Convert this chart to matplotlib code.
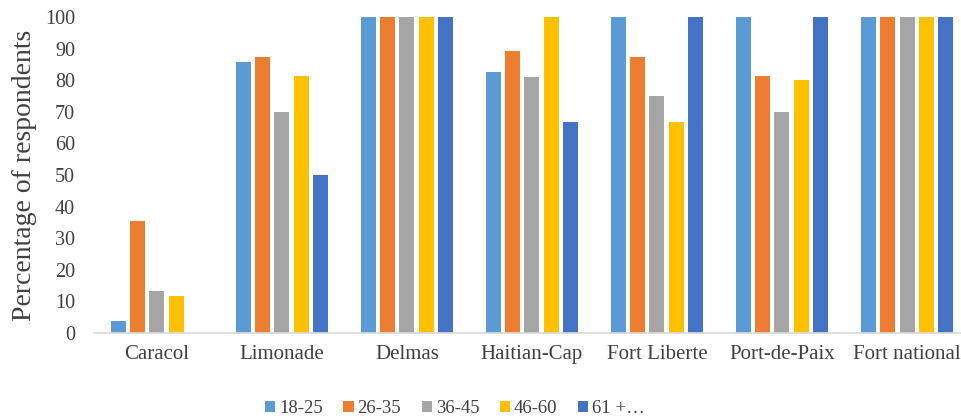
import numpy as np
import matplotlib
matplotlib.use('Agg')
import matplotlib.pyplot as plt

plt.rcParams['font.family'] = ['Liberation Serif', 'DejaVu Serif']

# Data
sites = ['Caracol', 'Limonade', 'Delmas', 'Haitian-Cap', 'Fort Liberte', 'Port-de-Paix', 'Fort national']
age_groups = ['18-25', '26-35', '36-45', '46-60', '61 +…']
age_18_25 = [3.8, 85.7, 100, 82.6, 100, 100, 100]
age_26_35 = [35.3, 87.5, 100, 89.3, 87.5, 81.3, 100]
age_36_45 = [13.3, 70, 100, 81, 75, 70, 100]
age_46_60 = [11.8, 81.3, 100, 100, 66.7, 80, 100]
age_61_plus = [0, 50, 100, 66.7, 100, 100, 100]

colors = ['#5B9BD5', '#ED7D31', '#A5A5A5', '#FFC000', '#4472C4']
series = [age_18_25, age_26_35, age_36_45, age_46_60, age_61_plus]

fig = plt.figure(figsize=(9.62, 4.19), dpi=100)
ax = fig.add_axes([0.0982, 0.2053, 0.9096, 0.754])

x = np.arange(len(sites))
width = 0.12
step = 0.154
for i, (vals, c, lab) in enumerate(zip(series, colors, age_groups)):
    ax.bar(x + (i - 2) * step, vals, width=width, color=c, label=lab)

ax.set_xlim(-0.5, len(sites) - 0.5)
ax.set_ylim(0, 100)
ax.set_yticks(range(0, 101, 10))
ax.set_xticks(x)
ax.set_xticklabels(sites)
ax.tick_params(axis='both', length=0, colors='#404040')
ax.tick_params(axis='x', pad=9, labelsize=15)
ax.tick_params(axis='y', pad=14, labelsize=14.5)
ax.set_ylabel('Percentage of respondents', fontsize=20, color='#404040', labelpad=6)

for s in ['top', 'right', 'left']:
    ax.spines[s].set_visible(False)
ax.spines['bottom'].set_color('#D9D9D9')
ax.spines['bottom'].set_linewidth(1.2)

handles, labels = ax.get_legend_handles_labels()
fig.legend(handles, labels, loc='center', bbox_to_anchor=(0.473, 0.024), ncol=5,
           frameon=False, fontsize=13.5, handlelength=0.55, handleheight=0.55,
           handletextpad=0.2, columnspacing=1.1, labelcolor='#404040')

fig.savefig('out.png', dpi=100)
